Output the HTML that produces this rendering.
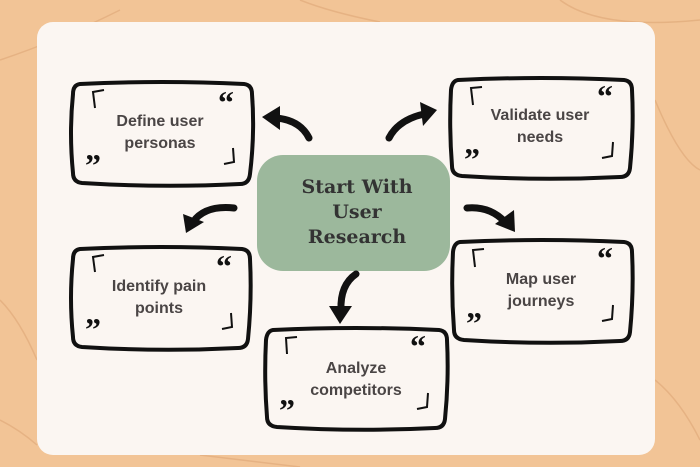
<!DOCTYPE html>
<html><head><style>
html,body{margin:0;padding:0;width:700px;height:467px;overflow:hidden;background:#f2c496}
svg{display:block}
.t{font-family:"Liberation Sans",sans-serif;font-size:16px;font-weight:bold;fill:#4a4545;text-anchor:middle}
.h{font-family:"DejaVu Serif",serif;font-size:19px;font-weight:bold;fill:#333;text-anchor:middle}
.q{font-family:"Liberation Serif",serif;font-size:32px;font-weight:bold;fill:#111}
</style></head><body>
<svg width="700" height="467" viewBox="0 0 700 467">
<g stroke="#e2ae7e" stroke-width="1.5" fill="none" opacity="0.8">
<path d="M0 60 Q60 40 120 10"/><path d="M560 0 Q600 30 700 20"/><path d="M0 300 Q20 320 37 360"/>
<path d="M655 100 Q680 160 700 170"/><path d="M655 380 Q680 400 700 440"/><path d="M200 455 Q260 462 300 467"/>
<path d="M0 420 Q20 430 37 445"/><path d="M300 0 Q330 12 380 22"/>
</g>
<rect x="37" y="22" width="618" height="433" rx="16" fill="#fbf6f2"/>
<rect x="257" y="155" width="193" height="116" rx="26" fill="#9cb89c"/>
<text class="h" x="357" y="193">Start With</text>
<text class="h" x="357" y="218">User</text>
<text class="h" x="357" y="243">Research</text>
<g fill="none" stroke="#111" stroke-width="4" stroke-linejoin="round">
<path d="M80 84 Q162 80 244 84 Q252 85 252 94 Q255 133 250 174 Q249 184 240 184 Q162 188 82 183 Q73 182 73 173 Q69 133 73 94 Q73 85 80 84Z"/>
<path d="M458 80 Q541 76 624 80 Q632 81 632 90 Q634 128 630 168 Q629 177 620 177 Q541 181 462 176 Q452 175 452 166 Q449 128 451 90 Q452 81 458 80Z"/>
<path d="M80 249 Q161 245 242 249 Q250 250 250 259 Q252 299 248 339 Q247 348 238 348 Q160 352 82 347 Q73 346 73 337 Q69 298 73 259 Q73 250 80 249Z"/>
<path d="M460 242 Q542 238 624 242 Q632 243 632 252 Q634 291 630 332 Q629 341 620 341 Q542 345 464 340 Q454 339 454 330 Q451 291 453 252 Q454 243 460 242Z"/>
<path d="M273 330 Q356 326 439 330 Q447 331 447 340 Q449 379 445 419 Q444 428 435 428 Q356 432 277 427 Q267 426 267 417 Q264 379 266 340 Q267 331 273 330Z"/>
</g>
<g fill="none" stroke="#111" stroke-width="2">
<path d="M95 108 L93 92 L104 90"/><path d="M233 148 L234 162 L224 164"/>
<path d="M473 105 L471 88 L482 87"/><path d="M613 142 L612 156 L602 158"/>
<path d="M95 272 L93 257 L104 255"/><path d="M231 313 L232 327 L222 329"/>
<path d="M475 267 L473 250 L484 249"/><path d="M613 305 L612 319 L602 321"/>
<path d="M287 354 L286 338 L297 337"/><path d="M428 393 L427 407 L417 409"/>
</g>
<text class="q" x="218" y="113">“</text><text class="q" x="85" y="176">”</text>
<text class="q" x="597" y="107">“</text><text class="q" x="464" y="170">”</text>
<text class="q" x="216" y="277">“</text><text class="q" x="85" y="340">”</text>
<text class="q" x="597" y="269">“</text><text class="q" x="466" y="334">”</text>
<text class="q" x="410" y="357">“</text><text class="q" x="279" y="421">”</text>
<text class="t" x="160" y="126">Define user</text><text class="t" x="160" y="148">personas</text>
<text class="t" x="540" y="120">Validate user</text><text class="t" x="540" y="142">needs</text>
<text class="t" x="159" y="291">Identify pain</text><text class="t" x="159" y="313">points</text>
<text class="t" x="541" y="284">Map user</text><text class="t" x="541" y="306">journeys</text>
<text class="t" x="356" y="373">Analyze</text><text class="t" x="356" y="395">competitors</text>
<g fill="none" stroke="#111" stroke-width="7" stroke-linecap="round">
<path d="M309 138 Q300 120 276 118"/>
<path d="M389 138 Q398 120 424 114"/>
<path d="M234 208 Q205 205 193 222"/>
<path d="M467 208 Q490 206 505 222"/>
<path d="M356 274 Q340 285 341 310"/>
</g>
<g fill="#111">
<polygon points="262,117 280,106 280,130"/>
<polygon points="437,110 420,102 423,126"/>
<polygon points="186,233 183,214 204,222"/>
<polygon points="515,232 495,224 514,210"/>
<polygon points="340,324 329,306 352,306"/>
</g>
</svg>
</body></html>
